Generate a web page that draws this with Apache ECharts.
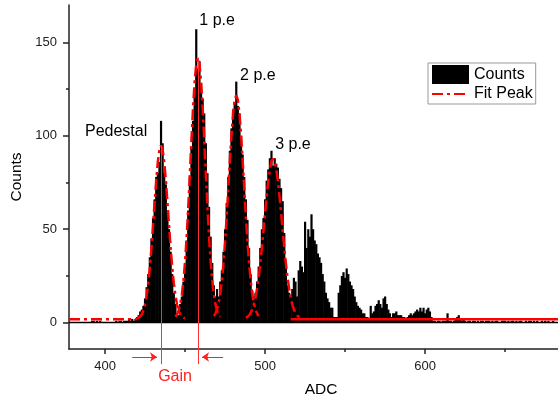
<!DOCTYPE html>
<html><head><meta charset="utf-8">
<script src="https://cdn.jsdelivr.net/npm/echarts@6/dist/echarts.min.js"></script>
<style>html,body{margin:0;padding:0;background:#fff}#c{width:558px;height:403px}</style>
</head><body><div id="c"></div>
<script>
// ---- data ----
const adcStart = 378; // first histogram bin (bin width 1 ADC)
const counts = [
  0,0,0,0,0,0,0,0,0,0,0,0,            // 378-389
  0,0,1,1,0,1,0,1,0,0,                // 390-399
  0,0,0,0,0,0,0,1,0,1,                // 400-409
  1,0,1,1,1,2,1,2,1,2,                // 410-419
  3,4,6,7,9,13,19,26,35,45,           // 420-429
  56,66,78,80,86,108,96,80,74,60,     // 430-439
  50,38,26,16,10,5,4,10,14,22,        // 440-449
  32,44,60,78,94,108,122,157,136,140, // 450-459
  128,120,112,96,80,62,46,32,20,14,   // 460-469
  18,14,22,28,38,50,64,78,92,104,     // 470-479
  114,118,129,116,112,100,90,78,66,55,// 480-489
  40,26,17,14,16,22,30,40,50,56,      // 490-499
  66,76,82,88,92,84,88,85,83,77,      // 500-509
  72,65,48,32,20,16,15,18,24,22,      // 510-519
  14,28,33,30,27,54,40,50,46,58,      // 520-529
  50,44,42,37,35,32,26,22,16,13,      // 530-539
  11,8,8,3,3,3,16,20,25,27,           // 540-549
  24,29,26,22,20,18,14,11,9,8,        // 550-559
  7,5,5,3,3,2,9,5,6,9,                // 560-569
  10,12,10,8,13,14,10,7,5,3,          // 570-579
  5,5,6,4,4,4,3,3,2,3,                // 580-589
  4,5,4,5,6,7,6,8,6,8,                // 590-599
  5,7,8,6,3,1,1,0,1,1,                // 600-609
  0,1,1,1,5,1,1,0,1,2,                // 610-619
  3,4,2,1,2,1,0,1,1,0,                // 620-629
  1,1,0,1,0,1,1,0,1,1,                // 630-639
  1,0,1,0,1,1,0,0,1,1,                // 640-649
  1,0,1,0,1,1,0,1,0,1,                // 650-659
  1,0,0,1,0,1,1,0,1,0,                // 660-669
  1,0,0,1,0,1,0,1,0,0,                // 670-679
  1,0,0                               // 680-682
];
const xTicks = [400, 500, 600];
const xMinorTicks = [450, 550, 650];
const yTicks = [0, 50, 100, 150];
const yMinorTicks = [25, 75, 125];

const fitPedestalStart = 420;
const fitPedestal = [2.2,2.5,3.2,4.5,6.5,9.7,14.4,21.0,29.5,40.0,52.0,64.5,76.3,86.1,92.5,94.8,92.5,86.1,76.3,64.5,52.0,40.0,29.5,21.0,14.4,9.7,6.5,4.5,3.2,2.5,2.2];
const fitPe1Start = 444;
const fitPe1 = [3.2,4.4,6.5,9.8,15.0,22.4,32.6,45.8,61.6,79.3,97.7,115.0,129.2,138.5,141.8,138.5,129.2,115.0,97.7,79.3,61.6,45.8,32.6,22.4,15.0,9.8,6.5,4.4,3.2];
const fitPe2Start = 468;
const fitPe2 = [3.5,4.9,7.1,10.5,15.5,22.5,31.7,43.2,56.7,71.6,86.6,100.5,111.8,119.2,121.8,119.2,111.8,100.5,86.6,71.6,56.7,43.2,31.7,22.5,15.5,10.5,7.1,4.9,3.5];
const fitPe3Start = 488;
const fitPe3 = [2.5,3.0,3.9,5.2,7.1,9.8,13.4,18.3,24.3,31.7,40.1,49.2,58.7,67.8,75.9,82.3,86.4,87.8,86.4,82.3,75.9,67.8,58.7,49.2,40.1,31.7,24.3,18.3,13.4,9.8,7.1,5.2,3.9,3.0,2.5];

const baselineLevel = 1.8;
const baselineDashed = [377.5, 420];
const baselineSolid = [516, 683];

const gainMarkers = [[435, 94.8], [458.4, 141.8]];
const gainMarkerBottom = -22.2;
const gainArrows = [[417, 432.5], [473.8, 460.6]];
const arrowLevel = -18.4;
const peakLabels = [['Pedestal', 387.5, 102.2], ['1 p.e', 458.9, 161.5], ['2 p.e', 484.4, 132.3], ['3 p.e', 506.3, 95.3]];
const gainLabel = ['Gain', 443.75, -28.8];

const xRange = [377.5, 683];
const yRange = [-14.1, 170];

// ---- chart ----
const FONT = '"Liberation Sans", Arial, sans-serif';
const RED = '#ff0000';
const DASHDOT = [11, 4, 3, 4];
const chart = echarts.init(document.getElementById('c'), null, { renderer: 'canvas' });

function toPairs(start, arr) { return arr.map((v, i) => [start + i, v]); }
function fitSeries(start, arr) {
  return {
    name: 'Fit Peak', type: 'line', data: toPairs(start, arr), showSymbol: false, symbol: 'none',
    lineStyle: { color: RED, width: 2.5, type: DASHDOT }, itemStyle: { color: RED }, z: 4, silent: true
  };
}
const axisCommon = { type: 'value', splitLine: { show: false }, axisPointer: { show: false } };

chart.setOption({
  animation: false,
  backgroundColor: '#fff',
  grid: { left: 69, right: 0, top: 5, bottom: 50.3, containLabel: false },
  legend: {
    data: [
      { name: 'Counts', icon: 'rect', itemStyle: { color: '#000' } },
      { name: 'Fit Peak', itemStyle: { opacity: 0 } }
    ],
    orient: 'vertical', left: 428, top: 63,
    itemWidth: 37, itemHeight: 19, itemGap: 2,
    padding: [2, 3, 2, 3],
    borderColor: '#999', borderWidth: 1, backgroundColor: '#fff',
    textStyle: { fontSize: 16, color: '#000', fontFamily: FONT },
    selectedMode: false
  },
  xAxis: [
    Object.assign({}, axisCommon, {
      min: xRange[0], max: xRange[1], position: 'bottom',
      name: 'ADC', nameLocation: 'middle', nameGap: 33,
      nameTextStyle: { fontSize: 15.5, color: '#000', fontFamily: FONT, padding: [0, 0, 0, 15] },
      axisLine: { onZero: false, lineStyle: { color: '#222', width: 1.5 } },
      axisTick: { show: true, length: 5, customValues: xTicks, lineStyle: { color: '#222', width: 1.5 } },
      axisLabel: { customValues: xTicks, fontSize: 13, color: '#222', fontFamily: FONT, margin: 11 }
    }),
    Object.assign({}, axisCommon, {
      min: xRange[0], max: xRange[1], position: 'bottom',
      axisLine: { show: false, onZero: false },
      axisTick: { show: true, length: 3, customValues: xMinorTicks, lineStyle: { color: '#222', width: 1.5 } },
      axisLabel: { show: false }
    })
  ],
  yAxis: [
    Object.assign({}, axisCommon, {
      min: yRange[0], max: yRange[1], position: 'left',
      name: 'Counts', nameLocation: 'middle', nameGap: 40,
      nameTextStyle: { fontSize: 15.5, color: '#000', fontFamily: FONT },
      axisLine: { show: true, onZero: false, lineStyle: { color: '#222', width: 1.5 } },
      axisTick: { show: true, length: 6, customValues: yTicks, lineStyle: { color: '#222', width: 1.5 } },
      axisLabel: { customValues: yTicks, fontSize: 13, color: '#222', fontFamily: FONT, margin: 12 }
    }),
    Object.assign({}, axisCommon, {
      min: yRange[0], max: yRange[1], position: 'left',
      axisLine: { show: false, onZero: false },
      axisTick: { show: true, length: 3, customValues: yMinorTicks, lineStyle: { color: '#222', width: 1.5 } },
      axisLabel: { show: false }
    })
  ],
  series: [
    {
      name: 'Counts', type: 'custom', data: toPairs(adcStart, counts),
      encode: { x: 0, y: 1 }, itemStyle: { color: '#000' }, z: 2, silent: true, clip: true,
      renderItem: function (params, api) {
        const x = api.value(0), y = api.value(1);
        if (!y) return null;
        const p0 = api.coord([x - 0.5, 0]);
        const p1 = api.coord([x + 0.5, y]);
        return { type: 'rect', shape: { x: p0[0] - 0.3, y: p1[1], width: p1[0] - p0[0] + 0.6, height: p0[1] - p1[1] },
                 style: { fill: '#000', stroke: null } };
      },
      markLine: {
        silent: true, symbol: 'none', label: { show: false },
        lineStyle: { color: '#000', width: 1.3, type: 'solid' },
        data: [{ yAxis: 0 }]
      }
    },
    fitSeries(fitPedestalStart, fitPedestal),
    fitSeries(fitPe1Start, fitPe1),
    fitSeries(fitPe2Start, fitPe2),
    fitSeries(fitPe3Start, fitPe3),
    {
      name: 'Fit Peak', type: 'line', data: baselineDashed.map(x => [x, baselineLevel]),
      showSymbol: false, symbol: 'none', lineStyle: { color: RED, width: 2.5, type: DASHDOT }, z: 4, silent: true
    },
    {
      name: 'Fit Baseline', type: 'line', data: baselineSolid.map(x => [x, baselineLevel]),
      showSymbol: false, symbol: 'none', lineStyle: { color: RED, width: 2.5, type: 'solid' }, z: 4, silent: true
    },
    {
      name: 'Gain markers', type: 'lines', coordinateSystem: 'cartesian2d', clip: false, silent: true, z: 5,
      symbol: 'none', lineStyle: { color: '#ff3030', width: 1, opacity: 1 },
      data: gainMarkers.map(m => ({ coords: [[m[0], m[1]], [m[0], gainMarkerBottom]] }))
    },
    {
      name: 'Gain arrows', type: 'lines', coordinateSystem: 'cartesian2d', clip: false, silent: true, z: 5,
      symbol: ['none', 'arrow'], symbolSize: 7, lineStyle: { color: '#ff2020', width: 1, opacity: 1 },
      data: gainArrows.map(a => ({ coords: [[a[0], arrowLevel], [a[1], arrowLevel]] }))
    }
  ]
});

const texts = peakLabels.map(l => {
  const p = chart.convertToPixel({ xAxisIndex: 0, yAxisIndex: 0 }, [l[1], l[2]]);
  return { type: 'text', x: p[0], y: p[1], z: 10,
    style: { text: l[0], fill: '#000', font: '16px ' + FONT, textAlign: 'left', textVerticalAlign: 'middle' } };
});
const gp = chart.convertToPixel({ xAxisIndex: 0, yAxisIndex: 0 }, [gainLabel[1], gainLabel[2]]);
texts.push({ type: 'text', x: gp[0], y: gp[1], z: 10,
  style: { text: gainLabel[0], fill: '#ff2020', font: '16px ' + FONT, textAlign: 'center', textVerticalAlign: 'middle' } });
chart.setOption({ graphic: texts });
</script>
</body></html>
